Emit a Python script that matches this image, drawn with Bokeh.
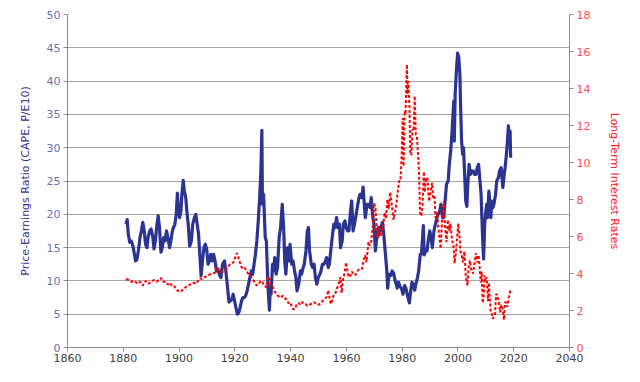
from bokeh.plotting import figure
from bokeh.models import Range1d, LinearAxis, FixedTicker
from bokeh.embed import file_html
from bokeh.resources import INLINE

# ---- data ----
cape_year = [1881.0,1881.4,1881.8,1882.3,1882.8,1883.3,1883.8,1884.4,1884.9,1885.5,1886.0,1886.5,1887.0,1887.5,1888.0,1888.5,1889.0,1889.5,1890.0,1890.6,
1891.0,1891.5,1892.0,1892.5,1893.0,1893.5,1894.0,1894.5,1895.0,1895.5,1896.0,1896.6,1897.0,1897.6,1898.0,1898.5,1899.0,1899.4,1899.8,1900.2,
1900.7,1901.0,1901.5,1901.9,1902.4,1902.9,1903.3,1903.8,1904.4,1904.9,1905.5,1906.0,1906.5,1907.0,1907.5,1907.9,1908.4,1908.9,1909.4,1909.9,
1910.4,1910.9,1911.4,1911.9,1912.4,1912.9,1913.4,1913.9,1914.4,1915.0,1915.6,1916.3,1916.9,1917.4,1917.9,1918.4,1918.9,1919.4,1919.9,1920.4,
1920.9,1921.4,1921.9,1922.4,1922.9,1923.4,1923.9,1924.4,1924.9,1925.4,1925.9,1926.4,1926.9,1927.4,1927.9,1928.4,1928.9,1929.3,1929.7,1929.9,
1930.3,1930.9,1931.3,1931.9,1932.4,1932.7,1933.0,1933.5,1933.9,1934.3,1934.8,1935.3,1935.9,1936.4,1937.0,1937.5,1937.9,1938.3,1938.9,1939.4,
1939.8,1940.4,1940.9,1941.4,1941.9,1942.3,1942.9,1943.5,1943.9,1944.5,1944.9,1945.5,1946.0,1946.4,1946.8,1947.4,1947.9,1948.4,1948.9,1949.4,
1949.9,1950.5,1950.9,1951.4,1951.9,1952.5,1952.9,1953.5,1953.9,1954.5,1954.9,1955.5,1955.9,1956.5,1956.9,1957.5,1957.9,1958.5,1958.9,1959.5,
1959.9,1960.5,1960.9,1961.5,1961.9,1962.4,1962.9,1963.5,1963.9,1964.5,1964.9,1965.5,1966.0,1966.5,1966.8,1967.4,1967.9,1968.5,1968.9,1969.5,
1969.9,1970.4,1970.9,1971.4,1971.9,1972.4,1972.9,1973.4,1973.9,1974.5,1974.8,1975.3,1975.9,1976.4,1976.9,1977.5,1977.9,1978.2,1978.7,1979.2,
1979.8,1980.3,1980.9,1981.4,1981.9,1982.6,1982.9,1983.5,1983.9,1984.5,1984.9,1985.5,1985.9,1986.5,1986.9,1987.6,1987.9,1988.5,1988.9,1989.5,
1989.9,1990.4,1990.8,1991.4,1991.9,1992.5,1992.9,1993.5,1993.9,1994.5,1994.9,1995.5,1995.9,1996.5,1996.9,1997.4,1997.9,1998.5,1998.7,1999.0,
1999.5,1999.9,2000.3,2000.7,2000.9,2001.3,2001.7,2002.0,2002.5,2002.8,2003.2,2003.6,2004.0,2004.5,2004.9,2005.5,2005.9,2006.5,2006.9,2007.4,
2007.9,2008.3,2008.8,2009.2,2009.6,2009.9,2010.3,2010.6,2011.1,2011.6,2011.8,2012.2,2012.5,2012.9,2013.5,2013.9,2014.5,2014.9,2015.5,2015.9,
2016.1,2016.6,2016.9,2017.5,2017.9,2018.1,2018.3,2018.7,2018.9]
cape_value = [18.5,19.2,17.0,15.8,16.0,15.5,14.5,13.0,13.2,14.8,16.5,17.5,18.8,17.5,15.5,15.0,16.8,17.5,17.8,16.5,
14.8,16.0,18.2,19.8,18.0,14.3,15.0,16.5,16.0,17.5,16.5,15.0,15.8,17.5,18.0,18.5,20.0,23.2,20.5,19.5,
20.5,23.0,25.1,23.5,22.5,20.0,18.5,15.2,16.0,18.5,19.5,20.0,18.5,17.0,13.5,10.8,13.0,15.0,15.5,14.8,
12.5,13.0,14.0,13.0,14.0,13.0,11.5,11.8,11.0,10.5,12.5,13.0,11.0,9.0,6.8,7.0,7.2,8.0,7.0,6.0,
5.0,5.2,6.0,7.0,7.5,7.5,7.8,8.5,9.5,10.5,11.5,11.0,12.5,14.0,16.0,19.0,22.5,26.0,32.6,21.5,
23.0,16.5,16.0,9.0,5.6,9.0,8.0,12.5,11.5,13.5,11.0,12.0,16.5,18.0,21.5,18.0,13.0,11.0,15.0,13.0,
15.5,12.5,13.0,11.5,10.5,8.5,9.5,11.5,11.0,12.0,12.5,14.5,17.5,18.0,14.5,12.5,12.0,12.5,10.5,9.5,
10.5,11.0,11.5,12.5,12.5,13.0,13.5,12.0,12.5,15.0,16.5,18.5,18.0,19.5,18.0,18.5,15.0,16.0,18.5,19.0,
18.0,17.5,17.5,20.5,22.0,17.5,18.5,20.0,21.0,22.5,23.0,22.5,24.1,21.0,19.5,21.5,21.5,21.0,22.5,19.5,
18.5,14.5,16.5,18.0,17.0,18.0,18.8,17.0,14.5,11.5,8.9,11.0,10.8,11.5,11.2,10.0,9.5,8.9,9.8,9.2,
8.8,8.0,9.3,8.8,7.8,6.7,8.0,9.8,9.5,8.6,9.5,10.5,11.5,14.0,14.0,18.3,13.9,14.5,14.5,16.5,
17.5,16.5,15.0,17.5,18.5,19.5,20.0,20.5,21.5,19.5,19.5,22.5,24.5,25.0,27.5,29.5,32.5,37.0,31.0,38.0,
42.0,44.2,43.5,41.0,37.0,31.0,29.0,30.0,25.0,22.0,21.2,25.0,27.5,26.0,26.5,26.5,26.0,26.0,27.0,27.5,
25.0,23.0,17.0,13.3,18.5,20.0,21.5,19.5,23.5,21.0,19.5,22.0,21.0,21.5,23.0,25.0,25.5,26.5,27.0,25.0,
24.0,26.0,27.0,29.5,32.0,33.3,31.5,32.5,28.5]

rate_year = [1881.0,1882.0,1883.0,1884.0,1885.0,1886.0,1887.0,1888.0,1889.0,1890.0,1891.0,1892.0,1893.0,1893.6,1894.2,1895.0,1896.0,1896.8,1897.5,1898.3,
1899.0,1899.6,1900.2,1900.8,1901.5,1902.3,1903.0,1903.8,1904.5,1905.2,1906.0,1906.8,1907.5,1908.2,1909.0,1910.0,1911.0,1912.0,1913.0,1913.6,
1914.2,1915.0,1915.8,1916.5,1917.3,1918.0,1918.8,1919.5,1920.2,1920.7,1921.2,1921.8,1922.4,1923.0,1923.6,1924.3,1925.0,1925.7,1926.4,1927.0,
1927.8,1928.4,1929.0,1929.7,1930.3,1930.9,1931.4,1931.9,1932.3,1932.9,1933.5,1934.0,1934.6,1935.3,1935.9,1936.5,1937.2,1937.8,1938.5,1939.2,
1939.8,1940.5,1941.0,1941.6,1942.2,1942.9,1943.5,1944.2,1944.8,1945.4,1946.0,1946.6,1947.3,1947.9,1948.5,1949.2,1949.8,1950.5,1951.1,1951.7,
1952.4,1953.0,1953.5,1954.0,1954.5,1955.0,1955.5,1956.0,1956.6,1957.2,1957.8,1958.3,1958.8,1959.3,1959.9,1960.4,1960.9,1961.5,1962.0,1962.6,
1963.2,1963.8,1964.4,1965.0,1965.6,1966.2,1966.7,1967.2,1967.9,1968.4,1968.9,1969.5,1969.9,1970.4,1970.9,1971.3,1971.7,1972.2,1972.7,1973.2,
1973.7,1974.2,1974.7,1975.2,1975.7,1976.3,1976.9,1977.4,1977.9,1978.4,1978.9,1979.4,1979.8,1980.2,1980.5,1980.9,1981.2,1981.7,1981.9,1982.2,
1982.6,1982.9,1983.3,1983.7,1984.1,1984.5,1984.9,1985.3,1985.8,1986.1,1986.4,1986.9,1987.3,1987.8,1988.1,1988.6,1989.1,1989.6,1990.0,1990.7,
1991.1,1991.6,1992.0,1992.5,1992.9,1993.3,1993.8,1994.3,1994.9,1995.4,1995.9,1996.4,1996.9,1997.3,1997.9,1998.4,1998.8,1999.3,1999.9,2000.1,
2000.7,2000.9,2001.3,2001.8,2002.3,2002.8,2003.4,2003.8,2004.3,2004.8,2005.4,2005.9,2006.4,2006.9,2007.4,2007.9,2008.2,2008.5,2008.9,2009.3,
2009.5,2009.9,2010.3,2010.8,2011.1,2011.7,2012.0,2012.5,2012.9,2013.3,2013.7,2014.0,2014.6,2014.9,2015.1,2015.5,2015.9,2016.5,2016.9,2017.2,
2017.7,2018.1,2018.5,2018.8]
rate_value = [3.70,3.65,3.55,3.60,3.45,3.55,3.35,3.60,3.45,3.55,3.65,3.55,3.70,3.75,3.55,3.55,3.40,3.50,3.30,3.30,
3.15,3.05,3.10,3.05,3.15,3.25,3.35,3.40,3.40,3.50,3.45,3.60,3.75,3.70,3.80,3.85,3.95,4.00,4.05,4.35,
4.15,4.05,4.10,4.20,4.30,4.45,4.55,4.60,4.90,5.10,4.90,4.60,4.35,4.25,4.30,4.10,3.95,3.85,3.70,3.55,
3.35,3.40,3.55,3.60,3.40,3.30,3.25,3.85,3.70,3.35,3.30,3.10,2.95,2.80,2.75,2.70,2.80,2.70,2.60,2.40,
2.45,2.20,2.05,2.10,2.35,2.40,2.30,2.45,2.40,2.35,2.25,2.30,2.35,2.40,2.45,2.35,2.30,2.35,2.45,2.55,
2.65,2.75,3.10,2.60,2.35,2.60,2.85,2.90,3.20,3.40,3.80,2.95,3.70,4.00,4.60,4.10,3.80,3.90,4.10,3.95,
3.90,4.10,4.20,4.20,4.25,4.70,5.00,4.60,5.70,5.50,5.75,6.60,7.80,7.60,6.40,5.90,6.60,6.00,6.40,6.50,
7.30,7.00,8.00,7.50,8.40,7.70,6.90,7.30,7.70,8.40,9.00,9.00,10.30,12.40,9.80,12.80,12.60,15.30,13.70,14.40,
13.10,10.50,10.40,11.80,11.70,13.60,11.50,11.40,10.20,9.20,7.30,7.10,7.70,9.50,8.40,9.20,9.10,7.90,8.20,8.90,
8.10,8.20,7.00,7.30,6.60,6.00,5.35,6.80,7.90,6.50,5.70,6.90,6.30,6.70,5.80,5.50,4.55,5.20,6.30,6.70,
5.80,5.20,5.00,4.60,5.20,3.90,3.35,4.30,4.70,4.20,4.00,4.50,5.10,4.60,5.00,4.10,3.50,4.10,2.40,2.90,
3.90,3.60,3.80,2.50,3.50,2.00,1.95,1.55,1.70,1.80,2.90,2.85,2.50,2.20,1.90,2.30,2.20,1.50,2.45,2.45,
2.20,2.60,2.90,3.10]

x_ticks = [1860, 1880, 1900, 1920, 1940, 1960, 1980, 2000, 2020, 2040]
left_ticks = [0, 5, 10, 15, 20, 25, 30, 35, 40, 45, 50]
right_ticks = [0, 2, 4, 6, 8, 10, 12, 14, 16, 18]

FONT = "DejaVu Sans"
GRID = "#A6A6A6"
AXIS = "#8C8C8C"

p = figure(width=624, height=366, output_backend="svg", toolbar_location=None,
           x_range=Range1d(1860, 2040), y_range=Range1d(0, 50),
           min_border_left=67, min_border_right=51, min_border_top=14, min_border_bottom=19)
p.extra_y_ranges = {"rate": Range1d(0, 18)}
p.outline_line_color = None
p.background_fill_color = "white"
p.border_fill_color = "white"

p.xgrid.visible = False
p.ygrid.ticker = FixedTicker(ticks=left_ticks)
p.ygrid.grid_line_color = GRID
p.ygrid.grid_line_width = 1

def style_axis(ax, color):
    ax.axis_line_color = AXIS
    ax.major_tick_line_color = AXIS
    ax.minor_tick_line_color = None
    ax.major_tick_in = 0
    ax.major_tick_out = 4
    ax.major_label_text_font = FONT
    ax.major_label_text_font_size = "11px"
    ax.major_label_text_color = color
    ax.major_label_standoff = 3
    ax.axis_label_text_font = FONT
    ax.axis_label_text_font_size = "11px"
    ax.axis_label_text_font_style = "normal"

xa = p.xaxis[0]
xa.ticker = FixedTicker(ticks=x_ticks)
style_axis(xa, "#404040")
xa.major_label_standoff = 2

ya = p.yaxis[0]
ya.ticker = FixedTicker(ticks=left_ticks)
style_axis(ya, "#6670B4")
ya.axis_label = "Price-Earnings Ratio (CAPE, P/E10)"
ya.axis_label_text_color = "#333399"
ya.axis_label_standoff = 12

ra = LinearAxis(y_range_name="rate", ticker=FixedTicker(ticks=right_ticks))
style_axis(ra, "#FF4D4D")
ra.axis_label = "Long-Term Interest Rates"
ra.axis_label_text_color = "#FF2020"
ra.axis_label_standoff = 15
p.add_layout(ra, "right")

p.line(cape_year, cape_value, line_color="#2B3490", line_width=3.2, line_join="round")
p.line(rate_year, rate_value, y_range_name="rate", line_color="#FF0000", line_width=2,
       line_dash="3 2")

open("out.html", "w").write(file_html(p, INLINE))
